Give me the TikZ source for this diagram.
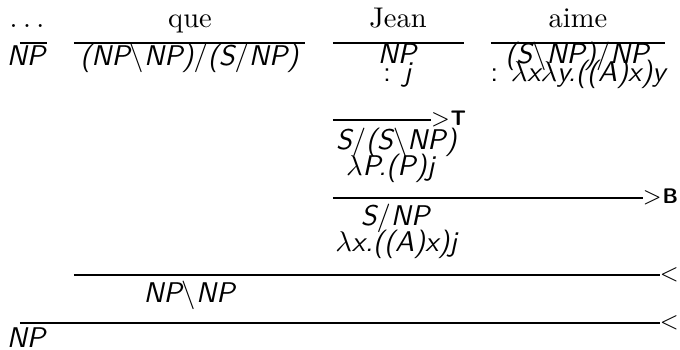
\documentclass[tikz,border=0pt]{standalone}
\usepackage{fontspec}
\newcommand\cat[1]{\textsf{\itshape #1}}
\newcommand\ccgbs{$\backslash$}
\newcommand\ccgsl{$/$}
\newcommand\ccglam{$\lambda$}
\newcommand\ccgrule[1]{\footnotesize$#1$}
\newcommand\ccgtag[1]{\kern0.3pt{\fontsize{7.4}{8}\selectfont\sffamily\bfseries #1}}
\begin{document}
\begin{tikzpicture}[x=0.351pt,y=-0.351pt,
  lbl/.style={anchor=base,inner sep=0pt,outer sep=0pt},
  rule/.style={line width=0.45pt},
  rulelbl/.style={anchor=base west,inner sep=0pt,outer sep=0pt,yshift=-2pt}]
\useasboundingbox (0,0) rectangle (680,350);
% words
\node[lbl] (w0) at (27,28) {.\kern1.9pt.\kern1.9pt.};
\node[lbl] (w1) at (190,28) {que};
\node[lbl] (w2) at (398,28) {Jean};
\node[lbl] (w3) at (578,28) {aime};
% lexical rules
\coordinate (l0a) at (20,43); \coordinate (l0b) at (47,43);
\coordinate (l1a) at (74,43); \coordinate (l1b) at (305,43);
\coordinate (l2a) at (333,43); \coordinate (l2b) at (464,43);
\coordinate (l3a) at (491,43); \coordinate (l3b) at (665,43);
\draw[rule] (l0a) -- (l0b);
\draw[rule] (l1a) -- (l1b);
\draw[rule] (l2a) -- (l2b);
\draw[rule] (l3a) -- (l3b);
% categories
\node[lbl] (c0) at (27,65) {\cat{NP}};
\node[lbl] (c1) at (190,65) {\cat{(NP\ccgbs NP)\ccgsl(S\ccgsl NP)}};
\node[lbl] (c2) at (398,63) {\cat{NP}};
\node[lbl] (c3) at (578,63) {\cat{(S\ccgbs NP)\ccgsl NP}};
\node[lbl] (s2) at (398,81) {\cat{\textup{:} j}};
\node[lbl] (s3) at (579,81) {\cat{\textup{:} \ccglam x\ccglam y.((A)x)y}};
% type raising
\coordinate (tA) at (333,120); \coordinate (tB) at (431,120);
\draw[rule] (tA) -- (tB);
\node[rulelbl] (tl) at (tB) {\ccgrule{>}\ccgtag{T}};
\node[lbl] (r1) at (397,149) {\cat{S\ccgsl(S\ccgbs NP)}};
\node[lbl] (r2) at (391,175) {\cat{\ccglam P.(P)j}};
% composition
\coordinate (bA) at (333,198); \coordinate (bB) at (643,198);
\draw[rule] (bA) -- (bB);
\node[rulelbl] (bl) at (bB) {\ccgrule{>}\ccgtag{B}};
\node[lbl] (m1) at (396,226) {\cat{S\ccgsl NP}};
\node[lbl] (m2) at (397,252) {\cat{\ccglam x.((A)x)j}};
% backward application 1
\coordinate (aA) at (74,275); \coordinate (aB) at (660,275);
\draw[rule] (aA) -- (aB);
\node[rulelbl] (al) at (aB) {\ccgrule{<}};
\node[lbl] (n1) at (190,303) {\cat{NP\ccgbs NP}};
% backward application 2
\coordinate (zA) at (20,323); \coordinate (zB) at (660,323);
\draw[rule] (zA) -- (zB);
\node[rulelbl] (zl) at (zB) {\ccgrule{<}};
\node[lbl] (n2) at (27,347) {\cat{NP}};
\end{tikzpicture}
\end{document}
